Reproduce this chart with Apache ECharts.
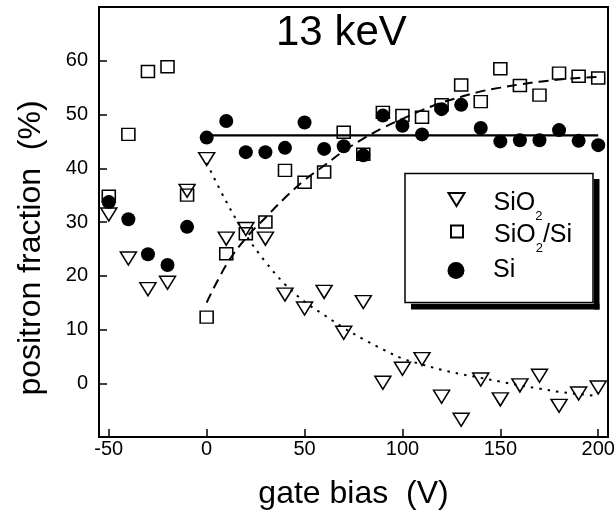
<!DOCTYPE html>
<html><head><meta charset="utf-8">
<script src="https://cdn.jsdelivr.net/npm/echarts@6/dist/echarts.min.js"></script>
<style>html,body{margin:0;padding:0;background:#fff}#c{width:616px;height:510px}</style>
</head><body><div id="c"></div>
<script>
const bias = [-50,-40,-30,-20,-10,0,10,20,30,40,50,60,70,80,90,100,110,120,130,140,150,160,170,180,190,200];
const sio2 = [31.4,23.2,17.5,18.7,35.8,41.7,26.9,28.7,26.9,16.5,13.9,17.0,9.4,15.1,0.1,2.7,4.5,-2.5,-6.8,0.7,-3.0,-0.4,1.4,-4.2,-1.9,-0.8];
const sio2si = [34.8,46.3,58.0,58.9,35.0,12.3,24.1,27.8,30.0,39.6,37.4,39.3,46.7,42.6,50.4,49.8,49.5,51.8,55.5,52.4,58.5,55.4,53.6,57.7,57.1,56.8];
const si = [33.7,30.5,24.0,22.0,29.1,45.7,48.8,43.0,43.0,43.8,48.5,43.6,44.1,42.4,49.8,47.9,46.3,51.0,51.8,47.5,45.0,45.2,45.2,47.1,45.1,44.3];
const fitX = [0,10,20,30,40,50,60,70,80,90,100,110,120,130,140,150,160,170,180,190,200];
const fitSiO2 = [41.0,33.8,27.6,22.6,18.4,15.2,12.7,10.3,8.2,6.3,4.6,3.5,2.5,1.7,1.0,0.3,-0.4,-1.0,-1.6,-2.0,-2.4];
const fitSiO2Si = [15.0,22.0,27.0,30.8,34.5,37.8,40.5,43.2,45.5,47.5,49.2,50.8,52.2,53.3,54.3,55.0,55.6,56.1,56.5,56.8,57.0];
const fitSiX = [0,200];
const fitSi = [46.1,46.1];
const xTicks = [-50,0,50,100,150,200];
const yTicks = [0,10,20,30,40,50,60];

const FONT = 'Liberation Sans, Arial, Helvetica, sans-serif';
const pairs = (xs, ys) => xs.map((x, i) => [x, ys[i]]);
const triDown = 'path://M0,0 L16,0 L8,13 Z';

const richText = {
  fontFamily: FONT, color: '#000',
  rich: {
    n: {fontFamily: FONT, fontSize: 25, lineHeight: 25, verticalAlign: 'top', padding: [4, 0, 0, 0], color: '#000'},
    s: {fontFamily: FONT, fontSize: 13, lineHeight: 13, verticalAlign: 'top', padding: [23, 0, 0, 0], color: '#000'},
    m: {fontFamily: FONT, fontSize: 25, lineHeight: 25, verticalAlign: 'top', color: '#000'}
  }
};
function legendFmt(name) {
  if (name === 'SiO2') return '{n|SiO}{s|2}';
  if (name === 'SiO2/Si') return '{n|SiO}{s|2}{n|/Si}';
  return '{m|' + name + '}';
}
function makeLegend(name, left, top, w, h, padLeft) {
  return {
    data: [name], orient: 'vertical', left: left, top: top, padding: 0,
    itemWidth: w, itemHeight: h, selectedMode: false, z: 10,
    formatter: legendFmt,
    textStyle: Object.assign({padding: [0, 0, 0, padLeft]}, richText)
  };
}
// empty title box used as the legend frame
function frameBox(left, top, bg, border, z) {
  return {
    text: ' ', left: left, top: top, z: z, padding: [64.5, 94, 64.5, 94],
    backgroundColor: bg, borderColor: border, borderWidth: border ? 1.5 : 0,
    textStyle: {fontSize: 1, lineHeight: 1, color: bg}
  };
}

const chart = echarts.init(document.getElementById('c'), null, {renderer: 'canvas'});
chart.setOption({
  animation: false,
  backgroundColor: '#fff',
  title: [
    {
      text: '13 keV', left: 276, top: 12, padding: 0,
      textStyle: {fontFamily: FONT, fontSize: 42, fontWeight: 'normal', color: '#000'}
    },
    frameBox(405, 173, '#fff', '#000', 8)
  ],
  legend: [
    makeLegend('SiO2', 447.5, 187, 17, 13, 23.5),
    makeLegend('SiO2/Si', 450, 219, 12, 12, 26),
    makeLegend('Si', 447.5, 258, 17, 17, 23.5)
  ],
  grid: {left: 99, right: 8, top: 7, bottom: 73, show: true, borderColor: '#000', borderWidth: 2,
    containLabel: false, outerBoundsMode: 'none'},
  xAxis: {
    type: 'value', min: -55, max: 205,
    name: 'gate bias  (V)', nameLocation: 'middle', nameGap: 41,
    nameTextStyle: {fontFamily: FONT, fontSize: 32, color: '#000'},
    axisLine: {show: true, onZero: false, lineStyle: {color: '#000', width: 2}},
    axisTick: {show: true, inside: true, length: 8, customValues: xTicks, lineStyle: {color: '#000', width: 1.5}},
    axisLabel: {customValues: xTicks, fontFamily: FONT, fontSize: 20, color: '#000', margin: 2},
    splitLine: {show: false}
  },
  yAxis: {
    type: 'value', min: -10, max: 70,
    name: 'positron fraction  (%)', nameLocation: 'middle', nameGap: 52, nameRotate: 90,
    nameTextStyle: {fontFamily: FONT, fontSize: 32, color: '#000', padding: [0, 52, 0, 0]},
    axisLine: {show: true, onZero: false, lineStyle: {color: '#000', width: 2}},
    axisTick: {show: true, inside: true, length: 8, customValues: yTicks, lineStyle: {color: '#000', width: 1.5}},
    axisLabel: {customValues: yTicks, fontFamily: FONT, fontSize: 20, color: '#000', margin: 11},
    splitLine: {show: false}
  },
  series: [
    {name: 'fitSiO2', type: 'line', data: pairs(fitX, fitSiO2), smooth: 0.4, symbol: 'none', z: 1,
      lineStyle: {color: '#000', width: 2, type: [2.5, 6]}, silent: true},
    {name: 'fitSiO2Si', type: 'line', data: pairs(fitX, fitSiO2Si), smooth: 0.4, symbol: 'none', z: 1,
      lineStyle: {color: '#000', width: 2, type: [10, 6]}, silent: true},
    {id: 'fitSi', name: 'fitSi', type: 'line', data: pairs(fitSiX, fitSi), symbol: 'none', z: 1,
      lineStyle: {color: '#000', width: 2.2, type: 'solid'}, silent: true},
    {name: 'SiO2', type: 'scatter', data: pairs(bias, sio2), symbol: triDown, symbolSize: [16, 13], z: 2,
      itemStyle: {color: 'rgba(0,0,0,0)', borderColor: '#000', borderWidth: 1.5, opacity: 1}},
    {name: 'SiO2/Si', type: 'scatter', data: pairs(bias, sio2si), symbol: 'rect', symbolSize: [13, 12], z: 3,
      itemStyle: {color: 'rgba(0,0,0,0)', borderColor: '#000', borderWidth: 1.5, opacity: 1}},
    {name: 'Si', type: 'scatter', data: pairs(bias, si), symbol: 'circle', symbolSize: 14, z: 4,
      itemStyle: {color: '#000', borderColor: '#000', borderWidth: 0, opacity: 1}}
  ]
});

// drop shadow of the legend frame: two black strips right and below the frame (pixel layout -> grid coords)
const P = (px, py) => chart.convertFromPixel({gridIndex: 0}, [px, py]);
const rTop = P(593.8, 179), rBot = P(599.5, 309.5);
const bTop = P(411, 303.8), bBot = P(599.5, 309.5);
chart.setOption({
  series: [{
    id: 'fitSi',
    markArea: {
      silent: true, label: {show: false},
      itemStyle: {color: '#000', opacity: 1, borderWidth: 0},
      emphasis: {disabled: true},
      data: [
        [{coord: rTop}, {coord: rBot}],
        [{coord: bTop}, {coord: bBot}]
      ]
    }
  }]
});
</script>
</body></html>
